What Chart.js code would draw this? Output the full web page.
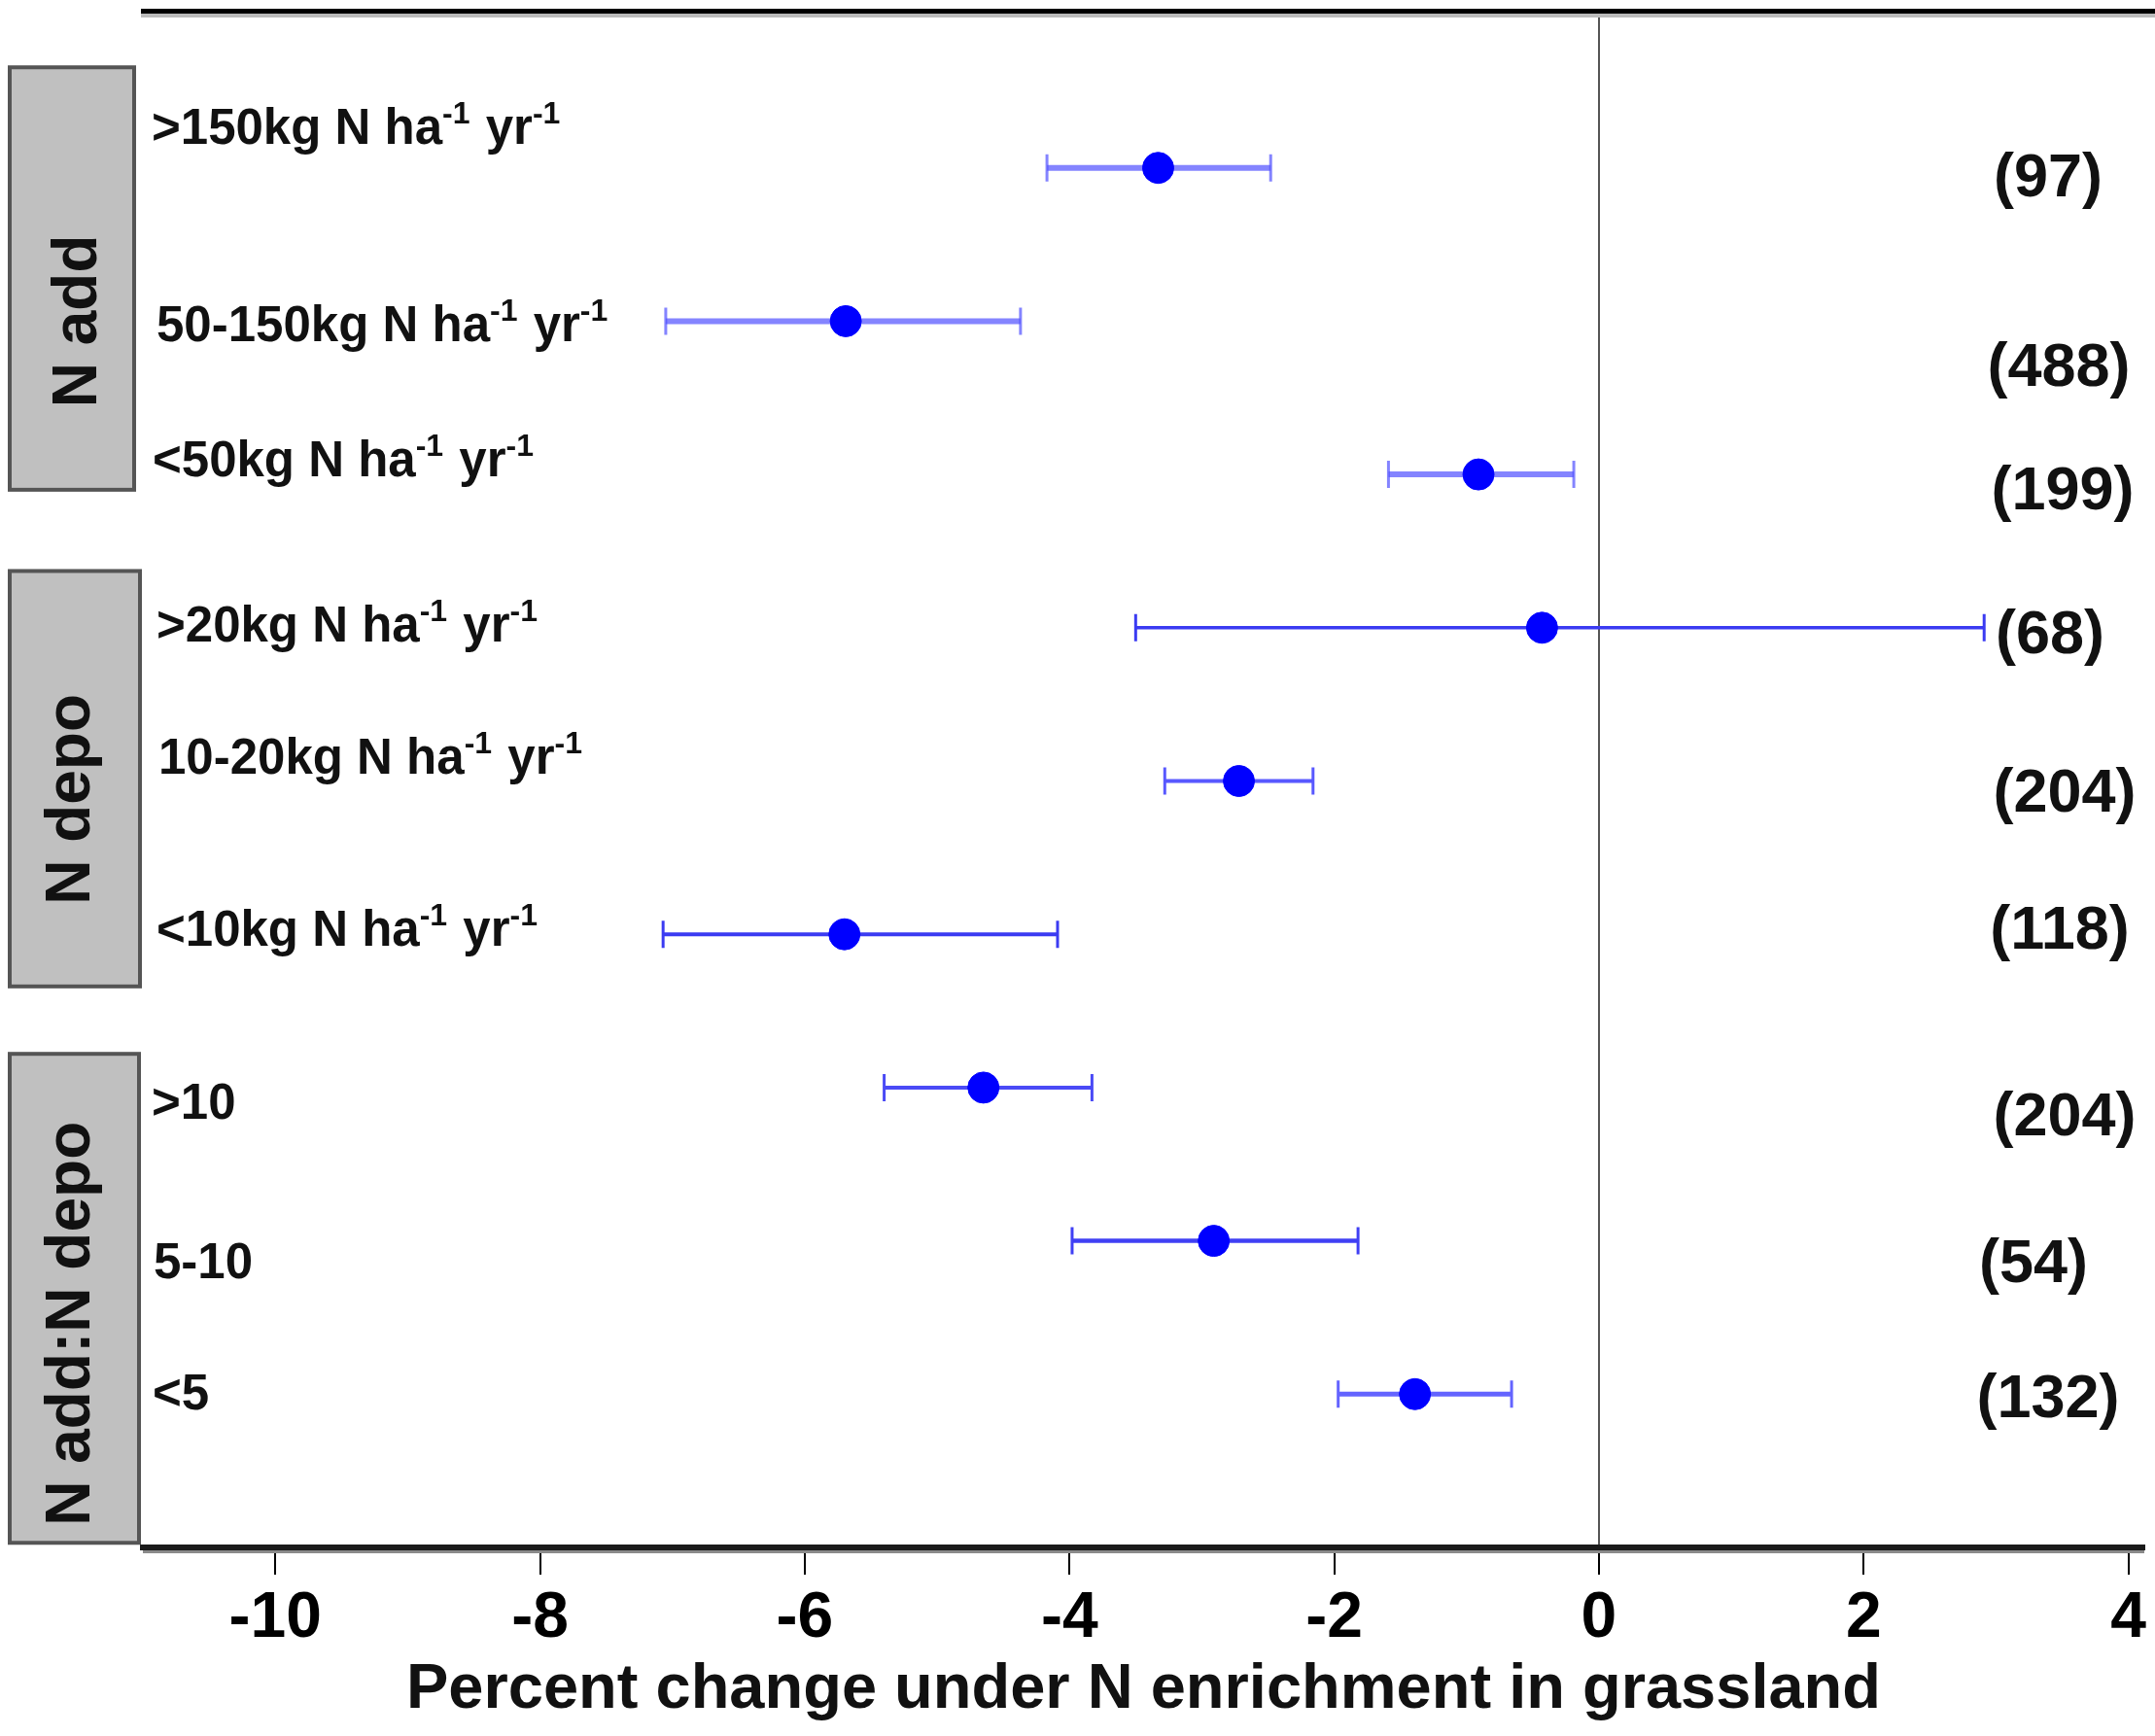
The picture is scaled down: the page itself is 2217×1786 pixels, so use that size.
<!DOCTYPE html>
<html><head><meta charset="utf-8">
<script src="https://cdn.jsdelivr.net/npm/chart.js@4.4.1/dist/chart.umd.min.js"></script>
<style>html,body{margin:0;padding:0;background:#fff;overflow:hidden}</style>
</head><body>
<canvas id="c" width="2217" height="1786"></canvas>
<script>
// ---- data ----
const categories = [">150kg N ha^-1 yr^-1", "50-150kg N ha^-1 yr^-1", "<50kg N ha^-1 yr^-1",
  ">20kg N ha^-1 yr^-1", "10-20kg N ha^-1 yr^-1", "<10kg N ha^-1 yr^-1", ">10", "5-10", "<5"];
const means = [-3.33, -5.69, -0.91, -0.43, -2.72, -5.70, -4.65, -2.91, -1.39];
const lower = [-4.17, -7.05, -1.59, -3.50, -3.28, -7.07, -5.40, -3.98, -1.97];
const upper = [-2.48, -4.37, -0.19, 2.91, -2.16, -4.09, -3.83, -1.82, -0.66];
const counts = ["(97)", "(488)", "(199)", "(68)", "(204)", "(118)", "(204)", "(54)", "(132)"];
const groups = ["N add", "N depo", "N add:N depo"];
const xTicks = [-10, -8, -6, -4, -2, 0, 2, 4];
const xTitle = "Percent change under N enrichment in grassland";

// ---- layout / style (not data) ----
const labelX = [156, 161, 157, 161, 163, 161, 156, 158, 157];
const labelDy = [-25, 21, 2, 14, -8, 12, 32, 38, 16];
const countX = [2107, 2118, 2122, 2109, 2124, 2119, 2124, 2092, 2107];
const countDy = [12, 49, 19, 9, 14, -3, 32, 25, 6];
const groupSpan = [[0.344, 3.10], [3.63, 6.34], [6.78, 9.97]];
const groupRight = [138, 144, 143];
const groupLabelY = [2.0, 5.12, 8.54];
const groupLabelX = [99, 92, 92];
const errColors = ["rgba(80,80,255,0.7)", "rgba(80,80,255,0.7)", "rgba(80,80,255,0.7)", "#3b3bf2",
  "#5858ff", "#3b3bf2", "#4a4af6", "#4040f4", "#6464ff"];
const errWidths = [6, 6, 6, 3.5, 4, 4, 4, 4.5, 5];
const FONT = '"Liberation Sans", Arial, sans-serif';

const annot = {
  id: 'annot',
  beforeDatasetsDraw(chart) {
    const ctx = chart.ctx, xs = chart.scales.x, ys = chart.scales.y;
    ctx.save();
    for (let i = 0; i < means.length; i++) {
      const y = ys.getPixelForValue(i + 1);
      const x1 = xs.getPixelForValue(lower[i]), x2 = xs.getPixelForValue(upper[i]);
      ctx.strokeStyle = errColors[i];
      ctx.lineWidth = errWidths[i];
      ctx.beginPath(); ctx.moveTo(x1, y); ctx.lineTo(x2, y); ctx.stroke();
      ctx.lineWidth = 3;
      ctx.beginPath();
      ctx.moveTo(x1, y - 14); ctx.lineTo(x1, y + 14);
      ctx.moveTo(x2, y - 14); ctx.lineTo(x2, y + 14);
      ctx.stroke();
    }
    ctx.restore();
  },
  afterDraw(chart) {
    const ctx = chart.ctx, ys = chart.scales.y, ca = chart.chartArea;
    ctx.save();
    // top line
    ctx.fillStyle = '#bbbbbb'; ctx.fillRect(145, 13, 2217 - 145, 5);
    ctx.fillStyle = '#000'; ctx.fillRect(145, 9, 2217 - 145, 5);
    // bottom axis shadow
    ctx.fillStyle = '#8a8a8a'; ctx.fillRect(ca.left, ca.bottom + 3, ca.right - ca.left, 3);
    // category labels with superscripts
    ctx.fillStyle = '#111';
    ctx.textBaseline = 'alphabetic'; ctx.textAlign = 'left';
    for (let i = 0; i < categories.length; i++) {
      const base = ys.getPixelForValue(i + 1) + labelDy[i];
      let x = labelX[i];
      const parts = categories[i].split(/\^(-1)/);
      parts.forEach((p, k) => {
        if (k % 2 === 1) {
          ctx.font = 'bold 32px ' + FONT;
          ctx.fillText(p, x, base - 21);
          x += ctx.measureText(p).width + 2;
        } else {
          ctx.font = 'bold 51px ' + FONT;
          ctx.fillText(p, x, base);
          x += ctx.measureText(p).width;
        }
      });
    }
    // counts
    ctx.font = 'bold 63px ' + FONT;
    ctx.textAlign = 'center'; ctx.textBaseline = 'middle';
    for (let i = 0; i < counts.length; i++) {
      ctx.fillText(counts[i], countX[i], ys.getPixelForValue(i + 1) + countDy[i]);
    }
    // group boxes
    for (let g = 0; g < groups.length; g++) {
      const y1 = ys.getPixelForValue(groupSpan[g][0]), y2 = ys.getPixelForValue(groupSpan[g][1]);
      ctx.fillStyle = '#c0c0c0';
      ctx.fillRect(10, y1, groupRight[g] - 10, y2 - y1);
      ctx.strokeStyle = '#555'; ctx.lineWidth = 4;
      ctx.strokeRect(10, y1, groupRight[g] - 10, y2 - y1);
      ctx.save();
      ctx.translate(groupLabelX[g], ys.getPixelForValue(groupLabelY[g]));
      ctx.rotate(-Math.PI / 2);
      ctx.fillStyle = '#111';
      ctx.font = 'bold 64px ' + FONT;
      ctx.textAlign = 'center'; ctx.textBaseline = 'alphabetic';
      ctx.fillText(groups[g], 0, 0);
      ctx.restore();
    }
    ctx.restore();
  }
};

new Chart(document.getElementById('c'), {
  type: 'scatter',
  data: {
    datasets: [{
      data: means.map((m, i) => ({ x: m, y: i + 1 })),
      pointRadius: 16, pointHoverRadius: 16,
      backgroundColor: '#0000ff', borderColor: '#0000ff', borderWidth: 1
    }]
  },
  options: {
    responsive: false, animation: false, devicePixelRatio: 1,
    layout: { autoPadding: false, padding: { left: 147, right: 11, top: 15, bottom: 0 } },
    plugins: { legend: { display: false }, tooltip: { enabled: false } },
    scales: {
      y: { type: 'linear', min: 0, max: 10, reverse: true, display: false },
      x: {
        type: 'linear', min: -11, max: 4.12,
        afterBuildTicks: s => { s.ticks = xTicks.map(v => ({ value: v })); },
        afterFit: s => { s.height = 194; s.paddingLeft = 0; s.paddingRight = 0; },
        grid: {
          drawOnChartArea: true,
          color: c => (c.tick && c.tick.value === 0) ? '#555' : 'rgba(0,0,0,0)',
          lineWidth: 2, tickColor: '#000', tickLength: 28, tickWidth: 2
        },
        border: { display: true, color: '#1a1a1a', width: 6 },
        ticks: {
          font: { family: FONT, size: 66, weight: 'bold' }, color: '#000', padding: 6,
          maxRotation: 0, autoSkip: false, callback: v => String(v)
        },
        title: {
          display: true, text: xTitle, color: '#111',
          font: { family: FONT, size: 65, weight: 'bold' }, padding: { top: 0, bottom: 8 }
        }
      }
    }
  },
  plugins: [annot]
});
</script>
</body></html>
